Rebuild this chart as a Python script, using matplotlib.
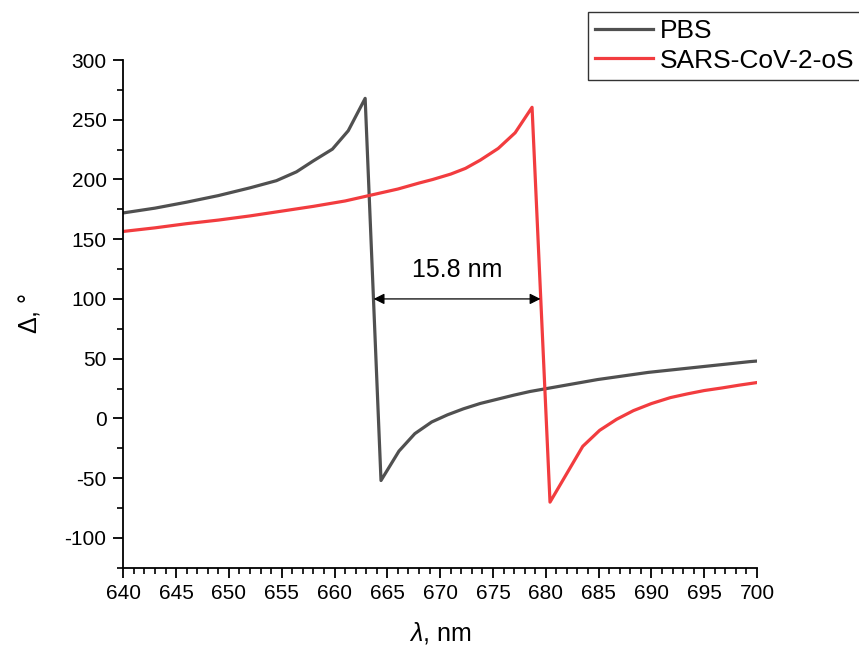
import matplotlib
matplotlib.use('Agg')
import matplotlib.pyplot as plt
from matplotlib.ticker import MultipleLocator

plt.rcParams['font.family'] = ['Liberation Sans', 'DejaVu Sans']
plt.rcParams['mathtext.fontset'] = 'custom'
plt.rcParams['mathtext.it'] = 'Liberation Sans:italic'
plt.rcParams['mathtext.rm'] = 'Liberation Sans'
plt.rcParams['axes.unicode_minus'] = False

# ellipsometric phase Delta vs wavelength
lam_pbs = [640, 643, 646, 649, 652, 654.5, 656.4, 658.0, 659.8, 661.3, 662.9,
           664.4, 666.1, 667.6, 669.2, 670.7, 672.2, 673.8, 675.4, 677.0, 678.5,
           680.1, 681.7, 683.3, 684.9, 686.5, 688.1, 689.7, 691.3, 692.9, 694.5,
           696.1, 697.7, 699.3, 700]
delta_pbs = [172, 176, 181, 186.5, 193, 199, 206.4, 215.6, 225.4, 240.8, 267.9,
             -52, -27.4, -12.8, -3, 3, 8, 12.5, 16, 19.5, 22.5,
             25, 27.5, 30, 32.5, 34.5, 36.5, 38.5, 40, 41.5, 43,
             44.5, 46, 47.5, 48]

lam_sars = [640, 643, 646, 649, 652, 655, 658, 661, 663.5, 666, 668, 669.3,
            671, 672.4, 673.8, 675.5, 677.1, 678.7, 680.4, 683.5, 685.1, 686.7,
            688.3, 690, 691.8, 693.4, 695, 696.7, 698.3, 700]
delta_sars = [156.5, 159.5, 163, 166, 169.5, 173.5, 177.5, 182, 187, 192, 197, 200,
              204.5, 209.3, 216.2, 226, 239.1, 260.4, -70.1, -23.4, -10, -0.8,
              6.5, 12.4, 17.4, 20.5, 23.3, 25.5, 27.8, 30]

shift_start, shift_end, shift_level = 663.7, 679.5, 100

fig = plt.figure(figsize=(8.59, 6.46), dpi=100)
ax = fig.add_axes([0.1435, 0.1212, 0.7378, 0.7859])

l1, = ax.plot(lam_pbs, delta_pbs, color='#505050', lw=2.3, label='PBS')
l2, = ax.plot(lam_sars, delta_sars, color='#f23c3f', lw=2.3, label='SARS-CoV-2-oS')

ax.annotate('', xy=(shift_start, shift_level), xytext=(shift_end, shift_level),
            arrowprops=dict(arrowstyle='<|-|>', color='black', lw=0.9,
                            shrinkA=0, shrinkB=0, mutation_scale=16))
ax.text((shift_start + shift_end) / 2, 124, '%.1f nm' % (shift_end - shift_start),
        ha='center', va='center', fontsize=18)

ax.set_xlim(640, 700)
ax.set_ylim(-125, 300)
ax.xaxis.set_major_locator(MultipleLocator(5))
ax.xaxis.set_minor_locator(MultipleLocator(1))
ax.yaxis.set_minor_locator(MultipleLocator(25))
ax.set_yticks(range(-100, 301, 50))

for s in ['top', 'right']:
    ax.spines[s].set_visible(False)
for s in ['left', 'bottom']:
    ax.spines[s].set_linewidth(1.3)
ax.tick_params(which='major', direction='out', length=7, width=1.3, labelsize=15, pad=5)
ax.tick_params(which='minor', direction='out', length=4, width=1.2)

ax.set_xlabel(r'$\mathit{\lambda}$, nm', fontsize=18, labelpad=12)
ax.set_ylabel(r'$\mathit{\Delta}$, °', fontsize=18, labelpad=16)

leg = fig.legend(handles=[l1, l2], loc='upper left',
                 bbox_to_anchor=(588 / 859, 1 - 12 / 646), fontsize=19,
                 frameon=True, fancybox=False, edgecolor='black',
                 handlelength=2.2, handletextpad=0.25, labelspacing=0.2,
                 borderpad=0.28, borderaxespad=0)
leg.get_frame().set_linewidth(1.0)

fig.savefig('out.png', dpi=100)
